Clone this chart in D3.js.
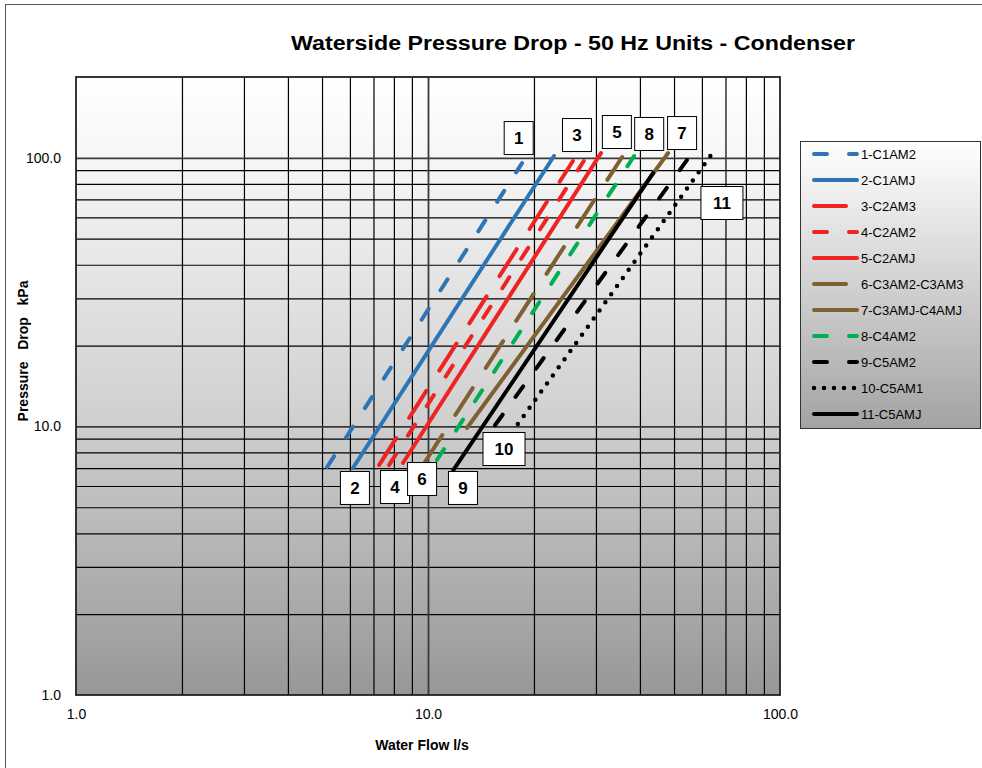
<meta charset="utf-8">
<style>
  body { margin: 0; background: #fff; }
  text { font-family: "Liberation Sans", Arial, sans-serif; }
</style>
<svg width="982" height="768"></svg>
<script src="https://d3js.org/d3.v7.min.js"></script>
<script>
// series names, colours, dash styles
var names = ["1-C1AM2", "2-C1AMJ", "3-C2AM3", "4-C2AM2", "5-C2AMJ", "6-C3AM2-C3AM3",
             "7-C3AMJ-C4AMJ", "8-C4AM2", "9-C5AM2", "10-C5AM1", "11-C5AMJ"];
var colors = ["#2e75b6", "#2e75b6", "#ee2424", "#ee2424", "#ee2424", "#7f6030",
              "#7f6030", "#00b050", "#000000", "#000000", "#000000"];
var dashes = ["13,22", null, "32,24", "13,22", null, "32,24", null, "13,22", "13,22", "0,10", null];

// flow (l/s) at start / end of each curve
var flowStart = [5.17, 6.12, 7.26, 7.75, 8.49, 9.80, 12.9, 10.6, 15.5, 18.0, 11.8];
var flowEnd   = [18.5, 22.8, 25.8, 27.7, 31.0, 35.6, 48.1, 38.5, 54.4, 64.9, 43.6];
// pressure drop (kPa) at start / end of each curve
var pdStart = [7.06, 7.00, 7.18, 7.18, 7.31, 7.37, 9.87, 7.50, 10.1, 10.2, 6.88];
var pdEnd   = [95.6, 101.6, 97.3, 97.3, 104.2, 100.7, 104.2, 101.6, 98.1, 106, 87.8];

// numbered tags placed on the chart (in data units)
var tagText = ["1", "3", "5", "8", "7", "11", "2", "4", "6", "9", "10"];
var tagFlow = [18.1, 26.5, 34.4, 42.5, 52.7, 68.4, 6.20, 8.06, 9.62, 12.57, 16.44];
var tagPd   = [118.5, 121.6, 124.8, 122.7, 123.7, 67.9, 5.90, 5.95, 6.37, 5.90, 8.24];

var xTicks = [1, 10, 100];
var yTicks = [1, 10, 100];
var xGrid = [2, 3, 4, 5, 6, 7, 8, 9, 20, 30, 40, 50, 60, 70, 80, 90];
var yGrid = [2, 3, 4, 5, 6, 7, 8, 9, 20, 30, 40, 50, 60, 70, 80, 90];

var svg = d3.select("svg");
var defs = svg.append("defs");

var g1 = defs.append("linearGradient").attr("id", "plotbg")
  .attr("x1", 0).attr("y1", 0).attr("x2", 0).attr("y2", 1);
g1.append("stop").attr("offset", "0").attr("stop-color", "#ffffff");
g1.append("stop").attr("offset", "0.12").attr("stop-color", "#f7f7f8");
g1.append("stop").attr("offset", "0.55").attr("stop-color", "#d0d0d0");
g1.append("stop").attr("offset", "1").attr("stop-color", "#979797");

var g2 = defs.append("linearGradient").attr("id", "legbg")
  .attr("x1", 0).attr("y1", 0).attr("x2", 0).attr("y2", 1);
g2.append("stop").attr("offset", "0").attr("stop-color", "#ffffff");
g2.append("stop").attr("offset", "1").attr("stop-color", "#a3a3a3");

// outer chart frame
svg.append("rect").attr("x", 5.5).attr("y", 4.5).attr("width", 1000).attr("height", 800)
  .attr("fill", "#fff").attr("stroke", "#555").attr("stroke-width", 1);

var pLeft = 76, pRight = 780, pTop = 77, pBottom = 695;

var x = d3.scaleLog().domain([1, 100]).range([pLeft, pRight]);
var y = d3.scaleLog().domain([1, 200]).range([pBottom, pTop]);

svg.append("rect").attr("x", pLeft).attr("y", pTop)
  .attr("width", pRight - pLeft).attr("height", pBottom - pTop)
  .attr("fill", "url(#plotbg)");

// grid lines
function gridX(vals, color, w) {
  svg.append("g")
    .attr("transform", "translate(0," + pBottom + ")")
    .call(d3.axisBottom(x).tickValues(vals).tickSize(-(pBottom - pTop)).tickFormat(""))
    .call(function(g) { g.select(".domain").remove(); })
    .selectAll("line").attr("stroke", color).attr("stroke-width", w);
}
function gridY(vals, color, w) {
  svg.append("g")
    .attr("transform", "translate(" + pLeft + ",0)")
    .call(d3.axisLeft(y).tickValues(vals).tickSize(-(pRight - pLeft)).tickFormat(""))
    .call(function(g) { g.select(".domain").remove(); })
    .selectAll("line").attr("stroke", color).attr("stroke-width", w);
}
gridX(xGrid, "#000", 1.2);
gridY(yGrid, "#000", 1.2);
gridX([10], "#3a3a3a", 1.8);
gridY([10, 100], "#3a3a3a", 1.8);

svg.append("rect").attr("x", pLeft).attr("y", pTop)
  .attr("width", pRight - pLeft).attr("height", pBottom - pTop)
  .attr("fill", "none").attr("stroke", "#222").attr("stroke-width", 1.8);

// axis labels
var xAxis = svg.append("g")
  .attr("transform", "translate(0," + pBottom + ")")
  .call(d3.axisBottom(x).tickValues(xTicks).tickSize(0).tickPadding(14).tickFormat(d3.format(".1f")));
xAxis.select(".domain").remove();
xAxis.selectAll("text").attr("font-size", "14px").attr("fill", "#000")
  .style("font-family", "Liberation Sans, Arial, sans-serif");

var yAxis = svg.append("g")
  .attr("transform", "translate(" + pLeft + ",0)")
  .call(d3.axisLeft(y).tickValues(yTicks).tickSize(0).tickPadding(15).tickFormat(d3.format(".1f")));
yAxis.select(".domain").remove();
yAxis.selectAll("text").attr("font-size", "14px").attr("fill", "#000")
  .style("font-family", "Liberation Sans, Arial, sans-serif");

// titles
svg.append("text")
  .attr("x", 573).attr("y", 50)
  .attr("text-anchor", "middle")
  .attr("font-size", "20px").attr("font-weight", "bold")
  .attr("textLength", 564).attr("lengthAdjust", "spacingAndGlyphs")
  .text("Waterside Pressure Drop - 50 Hz Units - Condenser");

svg.append("text")
  .attr("x", 422).attr("y", 750)
  .attr("text-anchor", "middle")
  .attr("font-size", "14px").attr("font-weight", "bold")
  .text("Water Flow l/s");

svg.append("text")
  .attr("transform", "translate(28,351) rotate(-90)")
  .attr("text-anchor", "middle")
  .attr("font-size", "14px").attr("font-weight", "bold")
  .attr("xml:space", "preserve")
  .text("Pressure   Drop   kPa");

// curves
var series = names.map(function(n, i) {
  return { name: n, color: colors[i], dash: dashes[i],
           pts: [[flowStart[i], pdStart[i]], [flowEnd[i], pdEnd[i]]] };
});

var line = d3.line()
  .x(function(d) { return x(d[0]); })
  .y(function(d) { return y(d[1]); });

svg.append("g").selectAll("path")
  .data(series)
  .enter().append("path")
    .attr("d", function(d) { return line(d.pts); })
    .attr("fill", "none")
    .attr("stroke", function(d) { return d.color; })
    .attr("stroke-width", function(d) { return d.dash === "0,10" ? 4.5 : 4; })
    .attr("stroke-linecap", "round")
    .attr("stroke-dasharray", function(d) { return d.dash; });

// numbered tags
var tags = svg.append("g").selectAll("g")
  .data(tagText)
  .enter().append("g")
    .attr("transform", function(d, i) {
      return "translate(" + x(tagFlow[i]) + "," + y(tagPd[i]) + ")";
    });

tags.append("rect")
  .attr("x", function(d) { return d.length > 1 ? -21 : -14.5; })
  .attr("y", -16.5)
  .attr("width", function(d) { return d.length > 1 ? 42 : 29; })
  .attr("height", 33)
  .attr("fill", "#fff").attr("stroke", "#000").attr("stroke-width", 1);

tags.append("text")
  .attr("text-anchor", "middle").attr("dy", "0.36em")
  .attr("font-size", "17px").attr("font-weight", "bold")
  .text(function(d) { return d; });

// legend
var legend = svg.append("g");
legend.append("rect")
  .attr("x", 800.5).attr("y", 141.5).attr("width", 180).attr("height", 287)
  .attr("fill", "url(#legbg)").attr("stroke", "#333").attr("stroke-width", 1);

var items = legend.selectAll("g.item")
  .data(series)
  .enter().append("g").attr("class", "item")
    .attr("transform", function(d, i) { return "translate(0," + (154 + i * 26) + ")"; });

items.append("line")
  .attr("x1", 814).attr("x2", 857)
  .attr("stroke", function(d) { return d.color; })
  .attr("stroke-width", function(d) { return d.dash === "0,10" ? 4.5 : 4; })
  .attr("stroke-linecap", "round")
  .attr("stroke-dasharray", function(d) { return d.dash; });

items.append("text")
  .attr("x", 861).attr("dy", "0.35em")
  .attr("font-size", "13px")
  .text(function(d) { return d.name; });
</script>
